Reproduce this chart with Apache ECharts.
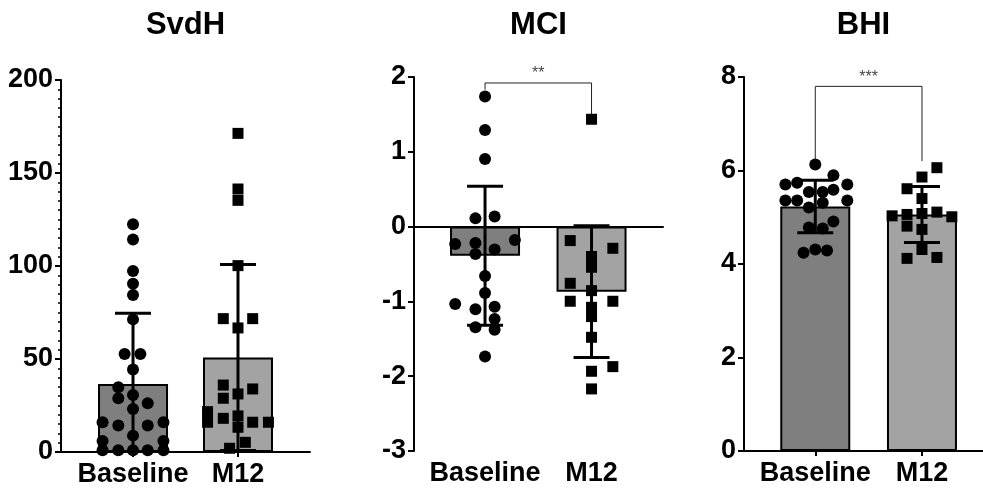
<!DOCTYPE html>
<html>
<head>
<meta charset="utf-8">
<script src="https://cdn.jsdelivr.net/npm/echarts@6/dist/echarts.min.js"></script>
<style>
  html, body { margin: 0; padding: 0; background: #fff; }
  #chart { width: 983px; height: 488px; }
</style>
</head>
<body>
<div id="chart"></div>
<script>
// categories
const categories = ['Baseline', 'M12'];
const titles = ['SvdH', 'MCI', 'BHI'];

// SvdH
const svdhBaseline = [122.4, 114.3, 97.3, 90.5, 84.4, 71.3, 52.7, 52.7, 44.4, 34.8, 30.6, 28.9, 26.2, 23.1, 16, 16, 14.2, 14.2, 8.8, 5.9, 5.9, 1, 1, 1, 1, 1];
const svdhBaselineJitter = [0, 0, 0, 0, 0, 0, -0.08, 0.07, 0, -0.14, 0, -0.14, 0.14, 0, -0.29, 0.29, -0.14, 0.14, 0, -0.29, 0.29, -0.29, -0.14, 0, 0.14, 0.29];
const svdhM12 = [171.3, 141.4, 135.3, 100.2, 71.7, 71.7, 66.7, 36, 33.9, 31.2, 28.9, 21.7, 19.4, 18.1, 16, 16, 16, 13.3, 5.2, 2];
const svdhM12Jitter = [0, 0, 0, 0, -0.14, 0.14, 0, -0.14, 0.14, 0, -0.14, -0.29, 0, -0.14, -0.29, 0.14, 0.29, 0, 0.07, -0.08];
const svdhMean = [36.6, 50.8];
const svdhSd = [38, 50];

// MCI
const mciBaseline = [1.74, 1.29, 0.905, 0.11, 0.134, -0.178, -0.232, -0.22, -0.307, -0.365, -0.66, -0.887, -1.034, -1.07, -1.105, -1.234, -1.346, -1.38, -1.738];
const mciBaselineJitter = [0, 0, 0, -0.09, 0.09, 0.28, -0.28, -0.09, 0.09, -0.09, 0, 0, -0.28, 0.09, -0.09, 0.09, -0.09, 0.09, 0];
const mciM12 = [1.435, -0.187, -0.29, -0.4, -0.544, -0.758, -0.856, -0.998, -0.998, -1.079, -1.203, -1.48, -1.872, -1.934, -2.17];
const mciM12Jitter = [0, -0.2, 0.2, 0, 0, -0.2, 0, -0.2, 0.2, 0, 0, 0, 0.2, 0, 0];
const mciMean = [-0.39, -0.87];
const mciSd = [0.93, 0.88];
const mciBracket = [1.83, 1.92, 1.5]; // left leg end, top, right leg end

// BHI
const bhiBaseline = [6.13, 5.9, 5.74, 5.7, 5.7, 5.54, 5.54, 5.59, 5.36, 5.36, 5.31, 5.36, 5.21, 4.91, 4.78, 4.76, 4.24, 4.31, 4.29];
const bhiBaselineJitter = [0, 0.17, -0.17, -0.28, 0.3, -0.06, 0.07, 0.17, -0.28, -0.17, 0.07, 0.3, -0.06, 0.17, -0.06, 0.07, -0.11, 0, 0.11];
const bhiM12 = [6.06, 5.86, 5.61, 5.4, 5.03, 5.06, 5.08, 5.11, 5.01, 4.81, 4.74, 4.31, 4.12, 4.14];
const bhiM12Jitter = [0.14, 0, -0.14, 0, -0.28, -0.14, 0, 0.14, 0.28, -0.14, 0, 0, -0.14, 0.14];
const bhiMean = [5.23, 5.06];
const bhiSd = [0.56, 0.6];
const bhiBracket = [6.23, 7.8, 6.2];

const FONT = '"Liberation Sans", Arial, sans-serif';
const barColors = ['#7f7f7f', '#a3a3a3'];

const panels = [
    { title: titles[0], groups: [[svdhBaseline, svdhBaselineJitter], [svdhM12, svdhM12Jitter]], mean: svdhMean, sd: svdhSd,
      grid: { left: 61, right: 673, top: 80, bottom: 36 }, xMin: -0.686, xMax: 1.686,
      y: { min: 0, max: 200, interval: 50 }, minor: true },
    { title: titles[1], groups: [[mciBaseline, mciBaselineJitter], [mciM12, mciM12Jitter]], mean: mciMean, sd: mciSd,
      grid: { left: 414, right: 320, top: 77, bottom: 37 }, xMin: -0.667, xMax: 1.671,
      y: { min: -3, max: 2, interval: 1 }, zeroLine: true, bracket: mciBracket, stars: '**' },
    { title: titles[2], groups: [[bhiBaseline, bhiBaselineJitter], [bhiM12, bhiM12Jitter]], mean: bhiMean, sd: bhiSd,
      grid: { left: 744, right: 0, top: 77, bottom: 37 }, xMin: -0.668, xMax: 1.572,
      y: { min: 0, max: 8, interval: 2 }, bracket: bhiBracket, stars: '***' }
];

const option = {
    animation: false,
    backgroundColor: '#fff',
    title: [], grid: [], xAxis: [], yAxis: [], series: []
};

panels.forEach((p, i) => {
    const g = p.grid;
    option.grid.push(g);
    option.title.push({
        text: p.title,
        left: 983 - g.right - (983 - g.right - g.left) / 2,
        top: 10,
        padding: 0,
        textAlign: 'center',
        textStyle: { fontFamily: FONT, fontWeight: 'bold', fontSize: 31, color: '#000' }
    });
    option.xAxis.push({
        type: 'value', gridIndex: i, min: p.xMin, max: p.xMax,
        splitLine: { show: false },
        axisLine: { lineStyle: { color: '#000', width: 2 } },
        axisTick: { customValues: [0, 1], length: 5, lineStyle: { color: '#000', width: 2 } },
        axisLabel: {
            customValues: [0, 1], margin: 9,
            formatter: v => categories[Math.round(v)],
            fontFamily: FONT, fontWeight: 'bold', fontSize: 27, color: '#000'
        }
    });
    option.yAxis.push({
        type: 'value', gridIndex: i, min: p.y.min, max: p.y.max, interval: p.y.interval,
        splitLine: { show: false },
        axisLine: { onZero: false, lineStyle: { color: '#000', width: 2 } },
        axisTick: { length: 6, lineStyle: { color: '#000', width: 2 } },
        minorTick: { show: !!p.minor, splitNumber: 10, length: 3, lineStyle: { color: '#000', width: 1.5 } },
        axisLabel: { margin: 8, fontFamily: FONT, fontWeight: 'bold', fontSize: 27, color: '#000' }
    });

    // bars
    const barSeries = {
        type: 'bar', xAxisIndex: i, yAxisIndex: i, barWidth: 70, z: 2,
        data: p.mean.map((m, k) => ({ value: [k, m], itemStyle: { color: barColors[k] } })),
        itemStyle: { borderColor: '#000', borderWidth: 2 }
    };
    if (p.zeroLine) {
        barSeries.markLine = {
            silent: true, symbol: 'none', label: { show: false },
            lineStyle: { color: '#000', width: 1.5, type: 'solid' },
            data: [{ yAxis: 0 }]
        };
    }
    option.series.push(barSeries);

    // error bars (mean ± SD)
    option.series.push({
        type: 'custom', xAxisIndex: i, yAxisIndex: i, z: 3,
        data: p.mean.map((m, k) => [k, m, p.sd[k]]),
        renderItem: (params, api) => {
            const cs = params.coordSys;
            const x = api.value(0), m = api.value(1), s = api.value(2);
            const top = api.coord([x, m + s]);
            const bot = api.coord([x, m - s]);
            const yLo = cs.y, yHi = cs.y + cs.height;
            const cx = top[0], half = 18;
            const children = [];
            const t = Math.max(yLo, top[1]);
            const b = Math.min(yHi, bot[1]);
            children.push({ type: 'line', shape: { x1: cx, y1: t, x2: cx, y2: b }, style: { stroke: '#000', lineWidth: 3 } });
            if (top[1] >= yLo) children.push({ type: 'line', shape: { x1: cx - half, y1: top[1], x2: cx + half, y2: top[1] }, style: { stroke: '#000', lineWidth: 3 } });
            if (bot[1] <= yHi) children.push({ type: 'line', shape: { x1: cx - half, y1: bot[1], x2: cx + half, y2: bot[1] }, style: { stroke: '#000', lineWidth: 3 } });
            return { type: 'group', children };
        }
    });

    // individual points
    p.groups.forEach((grp, k) => {
        option.series.push({
            type: 'scatter', xAxisIndex: i, yAxisIndex: i, z: 4,
            symbol: k === 0 ? 'circle' : 'rect',
            symbolSize: k === 0 ? 12 : 11,
            itemStyle: { color: '#000', opacity: 1 },
            data: grp[0].map((v, j) => [k + grp[1][j], v])
        });
    });

    // significance bracket
    if (p.bracket) {
        const br = p.bracket;
        option.series.push({
            type: 'line', xAxisIndex: i, yAxisIndex: i, z: 5,
            symbol: 'none', lineStyle: { color: '#222', width: 1 },
            data: [[0, br[0]], [0, br[1]], [1, br[1]], [1, br[2]]]
        });
        option.series.push({
            type: 'scatter', xAxisIndex: i, yAxisIndex: i, z: 5, symbolSize: 0,
            label: { show: true, position: 'top', distance: 1, formatter: p.stars,
                     fontFamily: FONT, fontSize: 16, color: '#111' },
            data: [[0.5, br[1]]]
        });
    }
});

const chart = echarts.init(document.getElementById('chart'));
chart.setOption(option);
</script>
</body>
</html>
